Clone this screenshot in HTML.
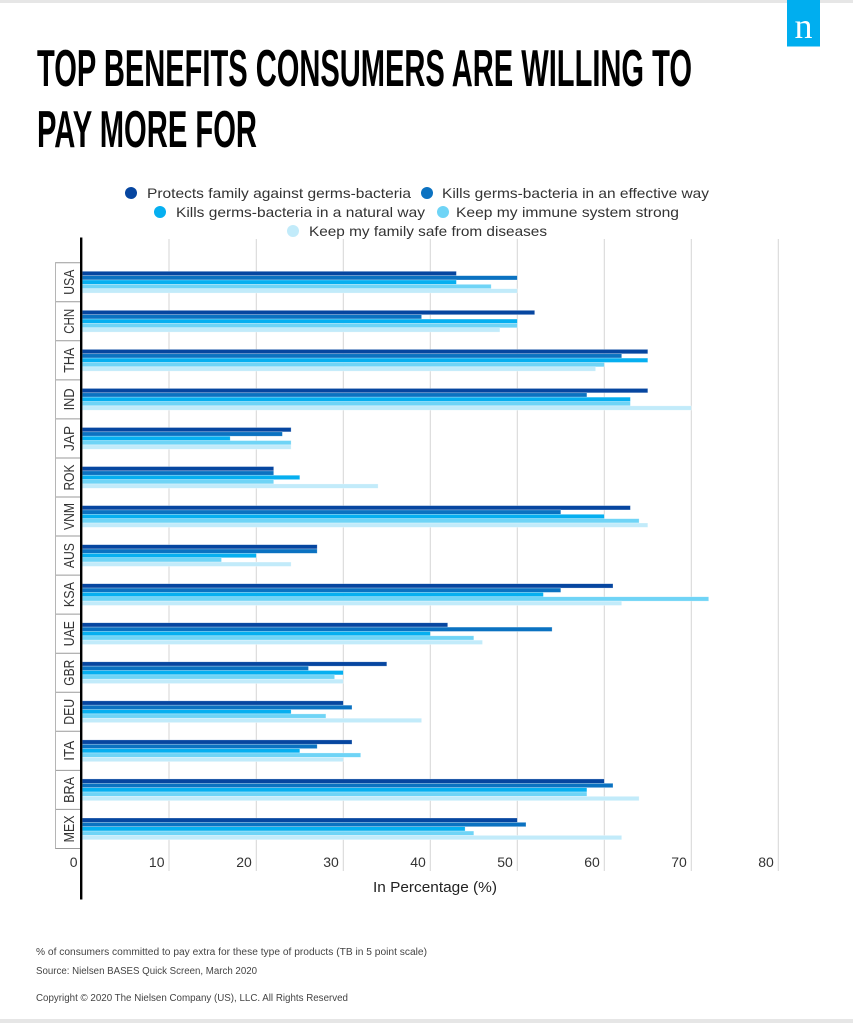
<!DOCTYPE html>
<html>
<head>
<meta charset="utf-8">
<style>
  html,body{margin:0;padding:0;background:#fff;}
  body{width:853px;height:1023px;overflow:hidden;}
  svg{display:block;}
  .b1{fill:#0646a0;}
  .b2{fill:#0b72c1;}
  .b3{fill:#06aff0;}
  .b4{fill:#6fd4f6;}
  .b5{fill:#c2ebfa;}
  .bar rect{stroke:#ffffff;stroke-opacity:0.45;stroke-width:0.6;}
  text{font-family:"Liberation Sans",Arial,sans-serif;}
  .lg{font-size:14px;fill:#333;}
  .tk{font-size:14px;fill:#333;}
  .cat{font-size:15px;fill:#333;}
  .ft{font-size:10px;fill:#444;}
</style>
</head>
<body>
<svg width="853" height="1023" viewBox="0 0 853 1023" xmlns="http://www.w3.org/2000/svg">
  <!-- top and bottom grey bands -->
  <rect x="0" y="0" width="853" height="3" fill="#e6e6e6"/>
  <rect x="0" y="1019" width="853" height="4" fill="#e6e6e6"/>

  <!-- logo -->
  <rect x="787" y="0" width="33" height="46.5" fill="#00aeef"/>
  <text x="803.5" y="38" text-anchor="middle" style="font-family:'Liberation Serif',serif;font-size:36px;fill:#fff;">n</text>

  <!-- title -->
  <text x="37" y="86" textLength="655" lengthAdjust="spacingAndGlyphs" style="font-size:52px;font-weight:bold;fill:#000;">TOP BENEFITS CONSUMERS ARE WILLING TO</text>
  <text x="37" y="147" textLength="220" lengthAdjust="spacingAndGlyphs" style="font-size:52px;font-weight:bold;fill:#000;">PAY MORE FOR</text>

  <!-- legend -->
  <circle cx="131" cy="193" r="6" class="b1"/>
  <text class="lg" x="147" y="198" textLength="264" lengthAdjust="spacingAndGlyphs">Protects family against germs-bacteria</text>
  <circle cx="427" cy="193" r="6" class="b2"/>
  <text class="lg" x="442" y="198" textLength="267" lengthAdjust="spacingAndGlyphs">Kills germs-bacteria in an effective way</text>
  <circle cx="160" cy="212" r="6" class="b3"/>
  <text class="lg" x="176" y="217" textLength="249" lengthAdjust="spacingAndGlyphs">Kills germs-bacteria in a natural way</text>
  <circle cx="443" cy="212" r="6" class="b4"/>
  <text class="lg" x="456" y="217" textLength="223" lengthAdjust="spacingAndGlyphs">Keep my immune system strong</text>
  <circle cx="293" cy="231" r="6" class="b5"/>
  <text class="lg" x="309" y="236" textLength="238" lengthAdjust="spacingAndGlyphs">Keep my family safe from diseases</text>

  <!-- gridlines -->
  <g stroke="#d6d6d6" stroke-width="1">
    <line x1="169.0" y1="239" x2="169.0" y2="871"/>
    <line x1="256.3" y1="239" x2="256.3" y2="871"/>
    <line x1="343.3" y1="239" x2="343.3" y2="871"/>
    <line x1="430.3" y1="239" x2="430.3" y2="871"/>
    <line x1="517.3" y1="239" x2="517.3" y2="871"/>
    <line x1="604.3" y1="239" x2="604.3" y2="871"/>
    <line x1="691.3" y1="239" x2="691.3" y2="871"/>
    <line x1="778.3" y1="239" x2="778.3" y2="871"/>
  </g>

  <!-- category ticks -->
  <g stroke="#9a9a9a" stroke-width="1">
    <line x1="55" y1="262.7" x2="81" y2="262.7"/>
    <line x1="55" y1="301.75" x2="81" y2="301.75"/>
    <line x1="55" y1="340.8" x2="81" y2="340.8"/>
    <line x1="55" y1="379.85" x2="81" y2="379.85"/>
    <line x1="55" y1="418.9" x2="81" y2="418.9"/>
    <line x1="55" y1="457.95" x2="81" y2="457.95"/>
    <line x1="55" y1="497.0" x2="81" y2="497.0"/>
    <line x1="55" y1="536.05" x2="81" y2="536.05"/>
    <line x1="55" y1="575.1" x2="81" y2="575.1"/>
    <line x1="55" y1="614.15" x2="81" y2="614.15"/>
    <line x1="55" y1="653.2" x2="81" y2="653.2"/>
    <line x1="55" y1="692.25" x2="81" y2="692.25"/>
    <line x1="55" y1="731.3" x2="81" y2="731.3"/>
    <line x1="55" y1="770.35" x2="81" y2="770.35"/>
    <line x1="55" y1="809.4" x2="81" y2="809.4"/>
    <line x1="55" y1="848.45" x2="81" y2="848.45"/>
    <line x1="55.5" y1="262.7" x2="55.5" y2="848.45" stroke="#b5b5b5"/>
  </g>

  <!-- category labels -->
  <g class="cat" text-anchor="middle">
    <text transform="translate(74,282.2) rotate(-90)" textLength="25" lengthAdjust="spacingAndGlyphs">USA</text>
    <text transform="translate(74,321.3) rotate(-90)" textLength="25" lengthAdjust="spacingAndGlyphs">CHN</text>
    <text transform="translate(74,360.3) rotate(-90)" textLength="25" lengthAdjust="spacingAndGlyphs">THA</text>
    <text transform="translate(74,399.4) rotate(-90)" textLength="22" lengthAdjust="spacingAndGlyphs">IND</text>
    <text transform="translate(74,438.4) rotate(-90)" textLength="25" lengthAdjust="spacingAndGlyphs">JAP</text>
    <text transform="translate(74,477.5) rotate(-90)" textLength="26" lengthAdjust="spacingAndGlyphs">ROK</text>
    <text transform="translate(74,516.5) rotate(-90)" textLength="27" lengthAdjust="spacingAndGlyphs">VNM</text>
    <text transform="translate(74,555.6) rotate(-90)" textLength="25" lengthAdjust="spacingAndGlyphs">AUS</text>
    <text transform="translate(74,594.6) rotate(-90)" textLength="25" lengthAdjust="spacingAndGlyphs">KSA</text>
    <text transform="translate(74,633.7) rotate(-90)" textLength="25" lengthAdjust="spacingAndGlyphs">UAE</text>
    <text transform="translate(74,672.7) rotate(-90)" textLength="26" lengthAdjust="spacingAndGlyphs">GBR</text>
    <text transform="translate(74,711.8) rotate(-90)" textLength="26" lengthAdjust="spacingAndGlyphs">DEU</text>
    <text transform="translate(74,750.8) rotate(-90)" textLength="20" lengthAdjust="spacingAndGlyphs">ITA</text>
    <text transform="translate(74,789.9) rotate(-90)" textLength="26" lengthAdjust="spacingAndGlyphs">BRA</text>
    <text transform="translate(74,828.9) rotate(-90)" textLength="27" lengthAdjust="spacingAndGlyphs">MEX</text>
  </g>

  <!-- bars -->
  <g class="bar">
    <!-- USA -->
    <g transform="translate(82.3,262.7)">
      <rect y="8.6" height="4.35" width="374.1" class="b1"/>
      <rect y="12.95" height="4.35" width="435" class="b2"/>
      <rect y="17.3" height="4.35" width="374.1" class="b3"/>
      <rect y="21.65" height="4.35" width="408.9" class="b4"/>
      <rect y="26.0" height="4.35" width="435" class="b5"/>
    </g>
    <!-- CHN -->
    <g transform="translate(82.3,301.75)">
      <rect y="8.6" height="4.35" width="452.4" class="b1"/>
      <rect y="12.95" height="4.35" width="339.3" class="b2"/>
      <rect y="17.3" height="4.35" width="435" class="b3"/>
      <rect y="21.65" height="4.35" width="435" class="b4"/>
      <rect y="26.0" height="4.35" width="417.6" class="b5"/>
    </g>
    <!-- THA -->
    <g transform="translate(82.3,340.8)">
      <rect y="8.6" height="4.35" width="565.5" class="b1"/>
      <rect y="12.95" height="4.35" width="539.4" class="b2"/>
      <rect y="17.3" height="4.35" width="565.5" class="b3"/>
      <rect y="21.65" height="4.35" width="522" class="b4"/>
      <rect y="26.0" height="4.35" width="513.3" class="b5"/>
    </g>
    <!-- IND -->
    <g transform="translate(82.3,379.85)">
      <rect y="8.6" height="4.35" width="565.5" class="b1"/>
      <rect y="12.95" height="4.35" width="504.6" class="b2"/>
      <rect y="17.3" height="4.35" width="548.1" class="b3"/>
      <rect y="21.65" height="4.35" width="548.1" class="b4"/>
      <rect y="26.0" height="4.35" width="609" class="b5"/>
    </g>
    <!-- JAP -->
    <g transform="translate(82.3,418.9)">
      <rect y="8.6" height="4.35" width="208.8" class="b1"/>
      <rect y="12.95" height="4.35" width="200.1" class="b2"/>
      <rect y="17.3" height="4.35" width="147.9" class="b3"/>
      <rect y="21.65" height="4.35" width="208.8" class="b4"/>
      <rect y="26.0" height="4.35" width="208.8" class="b5"/>
    </g>
    <!-- ROK -->
    <g transform="translate(82.3,457.95)">
      <rect y="8.6" height="4.35" width="191.4" class="b1"/>
      <rect y="12.95" height="4.35" width="191.4" class="b2"/>
      <rect y="17.3" height="4.35" width="217.5" class="b3"/>
      <rect y="21.65" height="4.35" width="191.4" class="b4"/>
      <rect y="26.0" height="4.35" width="295.8" class="b5"/>
    </g>
    <!-- VNM -->
    <g transform="translate(82.3,497.0)">
      <rect y="8.6" height="4.35" width="548.1" class="b1"/>
      <rect y="12.95" height="4.35" width="478.5" class="b2"/>
      <rect y="17.3" height="4.35" width="522" class="b3"/>
      <rect y="21.65" height="4.35" width="556.8" class="b4"/>
      <rect y="26.0" height="4.35" width="565.5" class="b5"/>
    </g>
    <!-- AUS -->
    <g transform="translate(82.3,536.05)">
      <rect y="8.6" height="4.35" width="234.9" class="b1"/>
      <rect y="12.95" height="4.35" width="234.9" class="b2"/>
      <rect y="17.3" height="4.35" width="174" class="b3"/>
      <rect y="21.65" height="4.35" width="139.2" class="b4"/>
      <rect y="26.0" height="4.35" width="208.8" class="b5"/>
    </g>
    <!-- KSA -->
    <g transform="translate(82.3,575.1)">
      <rect y="8.6" height="4.35" width="530.7" class="b1"/>
      <rect y="12.95" height="4.35" width="478.5" class="b2"/>
      <rect y="17.3" height="4.35" width="461.1" class="b3"/>
      <rect y="21.65" height="4.35" width="626.4" class="b4"/>
      <rect y="26.0" height="4.35" width="539.4" class="b5"/>
    </g>
    <!-- UAE -->
    <g transform="translate(82.3,614.15)">
      <rect y="8.6" height="4.35" width="365.4" class="b1"/>
      <rect y="12.95" height="4.35" width="469.8" class="b2"/>
      <rect y="17.3" height="4.35" width="348" class="b3"/>
      <rect y="21.65" height="4.35" width="391.5" class="b4"/>
      <rect y="26.0" height="4.35" width="400.2" class="b5"/>
    </g>
    <!-- GBR -->
    <g transform="translate(82.3,653.2)">
      <rect y="8.6" height="4.35" width="304.5" class="b1"/>
      <rect y="12.95" height="4.35" width="226.2" class="b2"/>
      <rect y="17.3" height="4.35" width="261" class="b3"/>
      <rect y="21.65" height="4.35" width="252.3" class="b4"/>
      <rect y="26.0" height="4.35" width="261" class="b5"/>
    </g>
    <!-- DEU -->
    <g transform="translate(82.3,692.25)">
      <rect y="8.6" height="4.35" width="261" class="b1"/>
      <rect y="12.95" height="4.35" width="269.7" class="b2"/>
      <rect y="17.3" height="4.35" width="208.8" class="b3"/>
      <rect y="21.65" height="4.35" width="243.6" class="b4"/>
      <rect y="26.0" height="4.35" width="339.3" class="b5"/>
    </g>
    <!-- ITA -->
    <g transform="translate(82.3,731.3)">
      <rect y="8.6" height="4.35" width="269.7" class="b1"/>
      <rect y="12.95" height="4.35" width="234.9" class="b2"/>
      <rect y="17.3" height="4.35" width="217.5" class="b3"/>
      <rect y="21.65" height="4.35" width="278.4" class="b4"/>
      <rect y="26.0" height="4.35" width="261" class="b5"/>
    </g>
    <!-- BRA -->
    <g transform="translate(82.3,770.35)">
      <rect y="8.6" height="4.35" width="522" class="b1"/>
      <rect y="12.95" height="4.35" width="530.7" class="b2"/>
      <rect y="17.3" height="4.35" width="504.6" class="b3"/>
      <rect y="21.65" height="4.35" width="504.6" class="b4"/>
      <rect y="26.0" height="4.35" width="556.8" class="b5"/>
    </g>
    <!-- MEX -->
    <g transform="translate(82.3,809.4)">
      <rect y="8.6" height="4.35" width="435" class="b1"/>
      <rect y="12.95" height="4.35" width="443.7" class="b2"/>
      <rect y="17.3" height="4.35" width="382.8" class="b3"/>
      <rect y="21.65" height="4.35" width="391.5" class="b4"/>
      <rect y="26.0" height="4.35" width="539.4" class="b5"/>
    </g>
  </g>

  <!-- y axis line -->
  <line x1="81.2" y1="237.5" x2="81.2" y2="899.5" stroke="#000" stroke-width="2.4"/>

  <!-- x tick labels -->
  <g class="tk" text-anchor="end">
    <text x="77.5" y="867">0</text>
    <text x="164.5" y="867">10</text>
    <text x="251.8" y="867">20</text>
    <text x="338.8" y="867">30</text>
    <text x="425.8" y="867">40</text>
    <text x="512.8" y="867">50</text>
    <text x="599.8" y="867">60</text>
    <text x="686.8" y="867">70</text>
    <text x="773.8" y="867">80</text>
  </g>

  <!-- x axis title -->
  <text x="373" y="892" style="font-size:15px;fill:#222;" textLength="124" lengthAdjust="spacingAndGlyphs">In Percentage (%)</text>

  <!-- footnotes -->
  <text class="ft" x="36" y="955" textLength="391" lengthAdjust="spacingAndGlyphs">% of consumers committed to pay extra for these type of products (TB in 5 point scale)</text>
  <text class="ft" x="36" y="974" textLength="221" lengthAdjust="spacingAndGlyphs">Source: Nielsen BASES Quick Screen, March 2020</text>
  <text class="ft" x="36" y="1001" textLength="312" lengthAdjust="spacingAndGlyphs">Copyright © 2020 The Nielsen Company (US), LLC. All Rights Reserved</text>
</svg>
</body>
</html>
